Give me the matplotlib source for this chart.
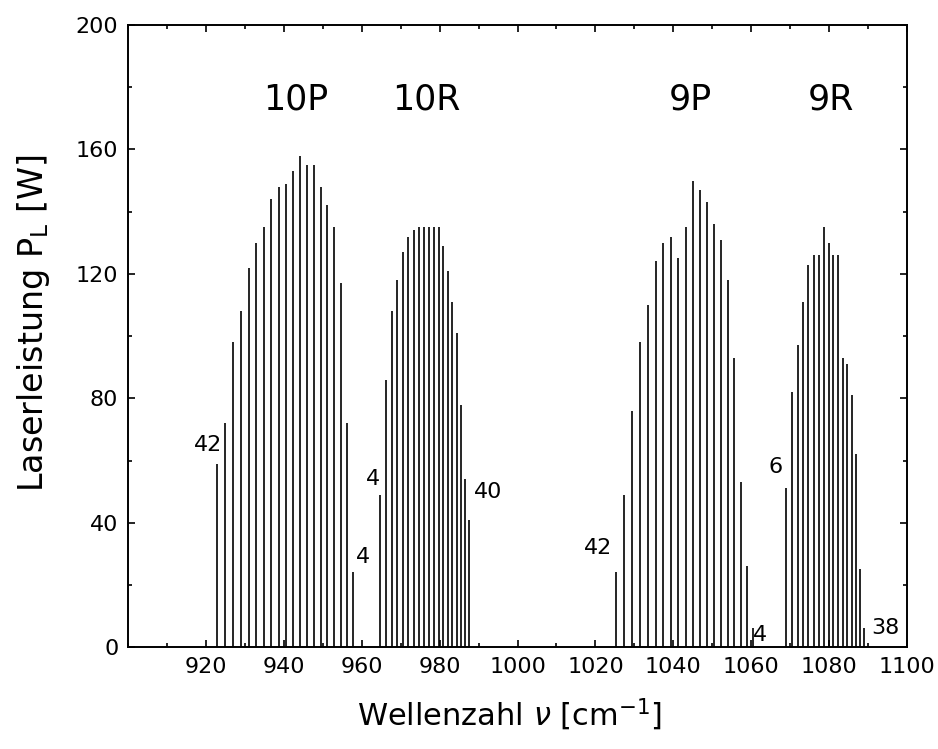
import matplotlib.pyplot as plt
from matplotlib.ticker import MultipleLocator

# CO2-Laserlinien: Wellenzahl [cm^-1] und Laserleistung [W]
# 10P-Zweig, P(42) ... P(4)
nu_10P = [922.92, 924.97, 927.01, 929.02, 931.00, 932.96, 934.90, 936.80, 938.69, 940.55,
          942.38, 944.19, 945.98, 947.74, 949.48, 951.19, 952.88, 954.55, 956.19, 957.80]
P_10P = [59, 72, 98, 108, 122, 130, 135, 144, 148, 149,
         153, 158, 155, 155, 148, 142, 135, 117, 72, 24]

# 10R-Zweig, R(4) ... R(40)
nu_10R = [964.77, 966.25, 967.71, 969.14, 970.55, 971.93, 973.29, 974.62, 975.93, 977.21,
          978.47, 979.71, 980.91, 982.10, 983.25, 984.38, 985.49, 986.57, 987.62]
P_10R = [49, 86, 108, 118, 127, 132, 134, 135, 135, 135,
         135, 135, 129, 121, 111, 101, 78, 54, 41]

# 9P-Zweig, P(42) ... P(4)
nu_9P = [1025.30, 1027.38, 1029.44, 1031.48, 1033.49, 1035.47, 1037.43, 1039.37, 1041.28, 1043.16,
         1045.02, 1046.85, 1048.66, 1050.44, 1052.20, 1053.92, 1055.63, 1057.30, 1058.95, 1060.57]
P_9P = [24, 49, 76, 98, 110, 124, 130, 132, 125, 135,
        150, 147, 143, 136, 131, 118, 93, 53, 26, 6]

# 9R-Zweig, R(6) ... R(38)
nu_9R = [1069.02, 1070.46, 1071.88, 1073.28, 1074.65, 1075.99, 1077.30, 1078.59, 1079.85,
         1081.09, 1082.30, 1083.48, 1084.64, 1085.77, 1086.87, 1087.95, 1089.00]
P_9R = [51, 82, 97, 111, 123, 126, 126, 135, 130,
        126, 126, 93, 91, 81, 62, 25, 6]

branch_names = ['10P', '10R', '9P', '9R']
branch_pos = [(943, 176), (976.5, 176), (1044.5, 176), (1080.5, 176)]

# Nummern J an den Enden der Zweige
j_labels = ['42', '4', '4', '40', '42', '4', '6', '38']
j_pos = [(920.5, 65), (960.2, 29), (962.9, 54), (992.5, 50),
         (1020.7, 32), (1062.3, 4), (1066.3, 58), (1094.5, 6)]

fig = plt.figure(figsize=(9.38, 7.49), dpi=100)
ax = fig.add_axes([0.1365, 0.136, 0.8305, 0.8306])

for nu, p in [(nu_10P, P_10P), (nu_10R, P_10R), (nu_9P, P_9P), (nu_9R, P_9R)]:
    ax.vlines(nu, 0, p, colors='black', linewidth=1.2)

for name, (x, y) in zip(branch_names, branch_pos):
    ax.text(x, y, name, fontsize=25, ha='center', va='center')

for lab, (x, y) in zip(j_labels, j_pos):
    ax.text(x, y, lab, fontsize=16, ha='center', va='center')

ax.set_xlim(900, 1100)
ax.set_ylim(0, 200)
ax.set_xticks(range(920, 1101, 20))
ax.xaxis.set_minor_locator(MultipleLocator(10))
ax.yaxis.set_major_locator(MultipleLocator(40))
ax.yaxis.set_minor_locator(MultipleLocator(20))
ax.tick_params(which='both', direction='in', top=True, right=True, width=1.2, labelsize=16)
ax.tick_params(which='major', length=5)
ax.tick_params(which='minor', length=3)
ax.tick_params(axis='x', pad=7)
ax.tick_params(axis='y', pad=7)
for s in ax.spines.values():
    s.set_linewidth(1.4)

ax.set_xlabel(r'Wellenzahl $\nu$ [cm$^{\mathregular{-1}}$]', fontsize=22)
ax.set_ylabel(r'Laserleistung P$_{\mathregular{L}}$ [W]', fontsize=24)
ax.xaxis.set_label_coords(0.49, -0.08)
ax.yaxis.set_label_coords(-0.098, 0.52)

fig.savefig('out.png', dpi=100)
